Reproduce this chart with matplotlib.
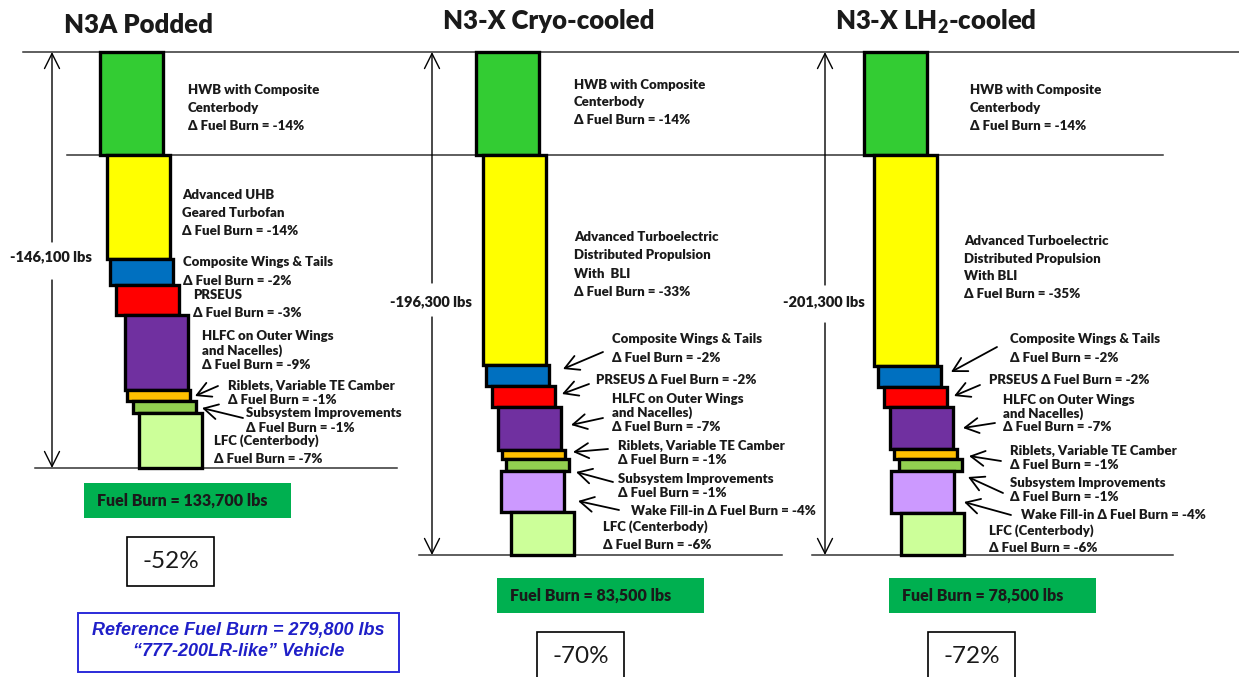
import numpy as np
import matplotlib.pyplot as plt
from matplotlib.patches import Rectangle

plt.rcParams['font.family'] = ['Lato', 'DejaVu Sans']
plt.rcParams['mathtext.fontset'] = 'custom'
plt.rcParams['mathtext.rm'] = 'Lato'
plt.rcParams['mathtext.bf'] = 'Lato:heavy'

# reference vehicle fuel burn, lbs
REF_BURN = 279800

# fuel burn reduction per technology (lbs) and the quoted delta (%)
n3a_tech = ['HWB', 'UHB', 'Wings', 'PRSEUS', 'HLFC', 'Riblets', 'Subsys', 'LFC']
n3a_drop = [36200, 36500, 9100, 10500, 26300, 3900, 4200, 19400]
n3a_pct = [-14, -14, -2, -3, -9, -1, -1, -7]

cryo_tech = ['HWB', 'TeDP', 'Wings', 'PRSEUS', 'HLFC', 'Riblets', 'Subsys', 'Wake', 'LFC']
cryo_drop = [40200, 82000, 8200, 8200, 16800, 3500, 4700, 16000, 16700]
cryo_pct = [-14, -33, -2, -2, -7, -1, -1, -4, -6]

lh2_tech = ['HWB', 'TeDP', 'Wings', 'PRSEUS', 'HLFC', 'Riblets', 'Subsys', 'Wake', 'LFC']
lh2_drop = [41200, 84400, 8400, 8000, 16800, 4000, 4800, 16800, 16900]
lh2_pct = [-14, -35, -2, -2, -7, -1, -1, -4, -6]

colors = {'HWB': '#33CC33', 'UHB': '#FFFF00', 'TeDP': '#FFFF00', 'Wings': '#0070C0',
          'PRSEUS': '#FF0000', 'HLFC': '#7030A0', 'Riblets': '#FFC000',
          'Subsys': '#92D050', 'Wake': '#CC99FF', 'LFC': '#CCFF99'}

W, H = 1239, 677
TOP = 52
BAR_W = 63
INK = '#1a1a1a'
BOLD = 'heavy'

fig = plt.figure(figsize=(W / 100, H / 100), dpi=100)
bg = fig.add_axes([0, 0, 1, 1])
bg.set_xlim(0, W)
bg.set_ylim(H, 0)
bg.axis('off')


def d(p):
    return 'Δ Fuel Burn = %d%%' % p


def draw_panel(techs, drops, lefts, ybot):
    ax = fig.add_axes([0, 1 - ybot / H, 1, (ybot - TOP) / H], zorder=3)
    ax.patch.set_alpha(0)
    ax.axis('off')
    drops = np.array(drops)
    tops = REF_BURN - np.concatenate([[0], np.cumsum(drops)[:-1]])
    ax.bar(np.array(lefts) + 1.5, drops, bottom=tops - drops, width=BAR_W, align='edge',
           color=[colors[t] for t in techs], edgecolor='black', linewidth=2.4, clip_on=False)
    ax.set_xlim(0, W)
    ax.set_ylim(REF_BURN - drops.sum(), REF_BURN)
    return drops.sum()


def label(x, y, step, lines, size=9.5):
    for i, s in enumerate(lines):
        bg.text(x, y + i * step, s, fontsize=size, fontweight=BOLD, color=INK,
                ha='left', va='center')


def arrow(tail, tip):
    bg.annotate('', xy=tip, xytext=tail,
                arrowprops=dict(arrowstyle='->,head_length=0.55,head_width=0.3',
                                lw=1.3, color='black', mutation_scale=18,
                                shrinkA=0, shrinkB=0))


def dimension(x, y0, y1, gap0, gap1, text, ty):
    for a, b in [(gap0, y0), (gap1, y1)]:
        bg.annotate('', xy=(x, b), xytext=(x, a),
                    arrowprops=dict(arrowstyle='->,head_length=0.6,head_width=0.3',
                                    lw=1.0, color='black', mutation_scale=18,
                                    shrinkA=0, shrinkB=0))
    bg.text(x - 1, ty, text, fontsize=10.5, fontweight=BOLD, color=INK,
            ha='center', va='center')


def result_boxes(x0, y0, total, px0, py0):
    final = REF_BURN - total
    bg.add_patch(Rectangle((x0, y0), 207, 35, facecolor='#00B050', edgecolor='none'))
    bg.text(x0 + 13, y0 + 17.5, 'Fuel Burn = {:,} lbs'.format(final), fontsize=11.5,
            fontweight=BOLD, color=INK, ha='left', va='center')
    bg.add_patch(Rectangle((px0, py0), 87, 49, facecolor='white', edgecolor='black', lw=1.2))
    bg.text(px0 + 43.5, py0 + 24.5, '-%d%%' % round(100 * total / REF_BURN),
            fontsize=17.5, color=INK, ha='center', va='center')


# guide lines
bg.plot([23, W], [TOP, TOP], color='#333333', lw=1.1)
bg.plot([67, 1163], [155, 155], color='#333333', lw=1.1)
bg.plot([35, 397], [468, 468], color='#333333', lw=1.1)
bg.plot([419, 782], [555, 555], color='#333333', lw=1.1)
bg.plot([812, 1173], [555, 555], color='#333333', lw=1.1)

# titles
bg.text(138, 25, 'N3A Podded', fontsize=18.5, fontweight=BOLD, ha='center', va='center', color=INK)
bg.text(549, 21, 'N3-X Cryo-cooled', fontsize=18.5, fontweight=BOLD, ha='center', va='center', color=INK)
bg.text(936, 22, r'N3-X LH$_\mathbf{2}$-cooled', fontsize=18.5, fontweight=BOLD, ha='center', va='center', color=INK)

# --- N3A Podded ---
tot = draw_panel(n3a_tech, n3a_drop, [98, 105, 108, 114, 123, 125, 131, 137], 468)
p = n3a_pct
label(188, 90, 18, ['HWB with Composite', 'Centerbody', d(p[0])])
label(182, 195, 18, ['Advanced UHB', 'Geared Turbofan', d(p[1])])
label(183, 262, 19, ['Composite Wings & Tails', d(p[2])])
label(193, 295, 18, ['PRSEUS', d(p[3])])
label(202, 336, 14.5, ['HLFC on Outer Wings', 'and Nacelles)', d(p[4])])
label(228, 386, 14, ['Riblets, Variable TE Camber', d(p[5])])
label(246, 413, 15, ['Subsystem Improvements', d(p[6])])
label(214, 441, 18, ['LFC (Centerbody)', d(p[7])])
arrow((218, 386), (195, 396))
arrow((243, 418), (202, 408))
dimension(52, TOP, 468, 242, 280, '-{:,} lbs'.format(tot), 257)
result_boxes(84, 483, tot, 127, 537)

# --- N3-X Cryo-cooled ---
tot = draw_panel(cryo_tech, cryo_drop, [474, 481, 484, 490, 496, 500, 504, 499, 509], 555)
p = cryo_pct
label(574, 85, 17.5, ['HWB with Composite', 'Centerbody', d(p[0])])
label(574, 237, 18.3, ['Advanced Turboelectric', 'Distributed Propulsion', 'With  BLI', d(p[1])])
label(612, 339, 19, ['Composite Wings & Tails', d(p[2])])
label(596, 380, 0, ['PRSEUS ' + d(p[3])])
label(612, 399, 14, ['HLFC on Outer Wings', 'and Nacelles)', d(p[4])])
label(618, 446, 14, ['Riblets, Variable TE Camber', d(p[5])])
label(618, 479, 14, ['Subsystem Improvements', d(p[6])])
label(631, 511, 0, ['Wake Fill-in ' + d(p[7])])
label(603, 527, 18, ['LFC (Centerbody)', d(p[8])])
arrow((603, 352), (563, 369))
arrow((589, 384), (562, 394))
arrow((603, 418), (571, 425))
arrow((608, 449), (573, 452))
arrow((613, 482), (576, 472))
arrow((619, 510), (578, 501))
dimension(432, TOP, 555, 283, 317, '-{:,} lbs'.format(tot), 302)
result_boxes(497, 578, tot, 537, 632)

# --- N3-X LH2-cooled ---
tot = draw_panel(lh2_tech, lh2_drop, [862, 872, 876, 882, 888, 892, 897, 889, 899], 555)
p = lh2_pct
label(970, 90, 18, ['HWB with Composite', 'Centerbody', d(p[0])])
label(964, 241, 17.7, ['Advanced Turboelectric', 'Distributed Propulsion', 'With BLI', d(p[1])])
label(1010, 339, 19, ['Composite Wings & Tails', d(p[2])])
label(989, 380, 0, ['PRSEUS ' + d(p[3])])
label(1003, 400, 13.5, ['HLFC on Outer Wings', 'and Nacelles)', d(p[4])])
label(1010, 451, 14, ['Riblets, Variable TE Camber', d(p[5])])
label(1010, 483, 14, ['Subsystem Improvements', d(p[6])])
label(1021, 515, 0, ['Wake Fill-in ' + d(p[7])])
label(989, 531, 17, ['LFC (Centerbody)', d(p[8])])
arrow((997, 347), (951, 372))
arrow((980, 385), (954, 396))
arrow((995, 423), (963, 428))
arrow((1001, 461), (969, 456))
arrow((1003, 493), (968, 477))
arrow((1011, 515), (964, 502))
dimension(825, TOP, 555, 285, 323, '-{:,} lbs'.format(tot), 302)
result_boxes(889, 578, tot, 928, 632)

# reference vehicle note
bg.add_patch(Rectangle((78, 613), 321, 59, facecolor='white', edgecolor='#2B2BD9', lw=1.4))
bg.text(238.5, 631, 'Reference Fuel Burn = {:,} lbs'.format(REF_BURN), fontsize=13,
        fontweight='bold', fontstyle='italic', family='Liberation Sans', color='#1F1FC8',
        ha='center', va='center')
bg.text(238.5, 652, '\u201c777-200LR-like\u201d Vehicle', fontsize=13,
        fontweight='bold', fontstyle='italic', family='Liberation Sans', color='#1F1FC8',
        ha='center', va='center')

fig.savefig('out.png', dpi=100)
